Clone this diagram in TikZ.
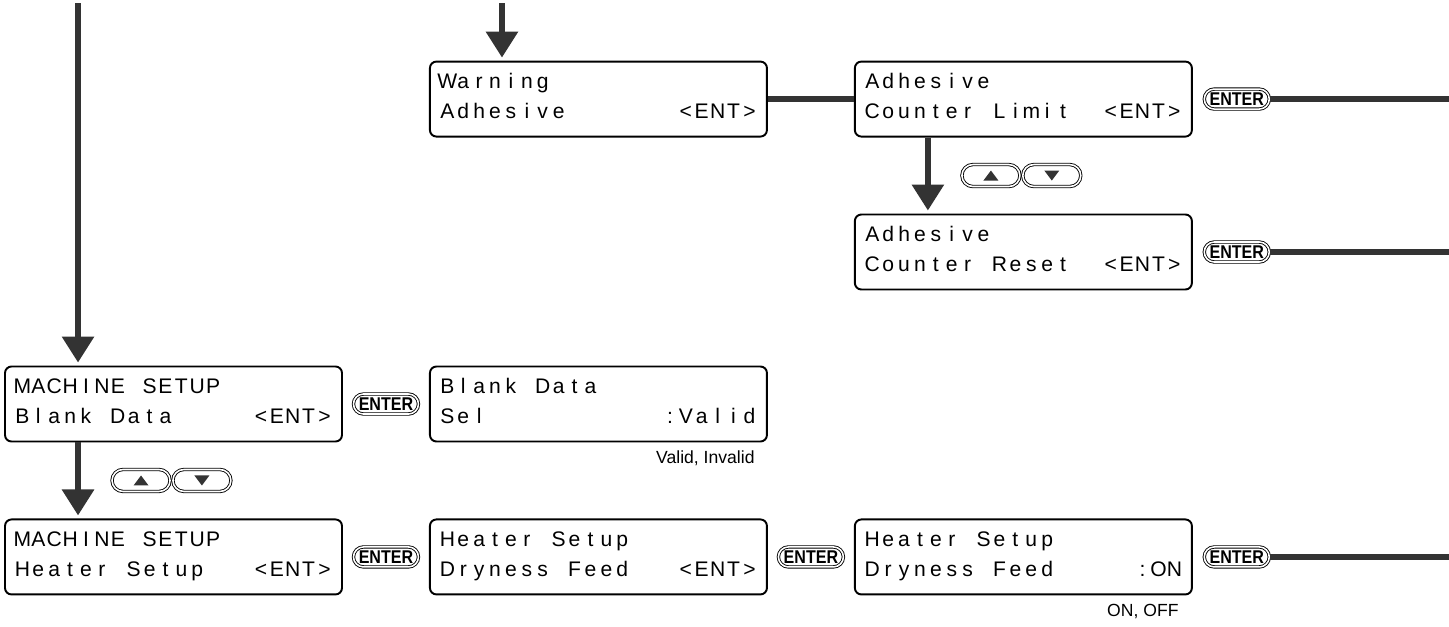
\documentclass[tikz,border=0pt]{standalone}
\usepackage{fontspec}
\setmainfont{Liberation Sans}
\newfontfamily\keyfont[FakeStretch=0.87]{Liberation Sans}
\usetikzlibrary{arrows.meta,positioning,calc,shapes.misc}
\definecolor{ink}{RGB}{51,51,51}
\newlength\lcdpitch
\setlength\lcdpitch{0.318cm}
\ExplSyntaxOn
\NewDocumentCommand\lcd{m}{\str_map_inline:nn{#1}{\makebox[\lcdpitch][c]{##1}}}
\ExplSyntaxOff
\newcommand\lcdline[2]{\rule[-6pt]{0pt}{17pt}\makebox[6.36cm]{\lcd{#1}\hfill\lcd{#2}}}

\begin{document}
\begin{tikzpicture}[
  node distance=1.52cm and 1.72cm,
  lcd/.style={
    draw=black,
    line width=1.1pt,
    rounded corners=0.13cm,
    minimum width=6.74cm,
    minimum height=1.5cm,
    inner sep=0pt,
    align=left,
    font=\fontsize{12}{17}\selectfont
  },
  key/.style={
    rounded rectangle,
    draw=black,
    double=white,
    line width=0.5pt,
    double distance=0.9pt,
    minimum width=1.30cm,
    minimum height=0.40cm,
    inner sep=0pt,
    font=\keyfont\bfseries\fontsize{10.5}{10.5}\selectfont
  },
  updown/.style={
    key,
    minimum width=1.16cm,
    minimum height=0.44cm
  },
  flow/.style={
    -{Triangle[width=0.62cm,length=0.52cm]},
    line width=0.12cm,
    ink,
    shorten >=0.06cm
  },
  link/.style={
    line width=0.12cm,
    ink
  },
  note/.style={
    font=\fontsize{10}{10}\selectfont,
    inner sep=0pt
  }
]

\useasboundingbox (0,0) rectangle (28.98,-12.52);
\coordinate (top) at (0,-0.06);
\coordinate (edge) at (28.98,0);

% Screens
\node[lcd] (ms1) at (3.47,-8.08) {\lcdline{MACHINE SETUP}{}\\\lcdline{Blank Data}{<ENT>}};
\node[lcd,right=of ms1] (bd) {\lcdline{Blank Data}{}\\\lcdline{Sel}{:Valid}};
\node[lcd,below=of ms1] (ms2) {\lcdline{MACHINE SETUP}{}\\\lcdline{Heater Setup}{<ENT>}};
\node[lcd,right=of ms2] (hs1) {\lcdline{Heater Setup}{}\\\lcdline{Dryness Feed}{<ENT>}};
\node[lcd,right=of hs1] (hs2) {\lcdline{Heater Setup}{}\\\lcdline{Dryness Feed}{:ON}};
\node[lcd,above=4.56cm of hs2] (rst) {\lcdline{Adhesive}{}\\\lcdline{Counter Reset}{<ENT>}};
\node[lcd,above=of rst] (cnt) {\lcdline{Adhesive}{}\\\lcdline{Counter Limit}{<ENT>}};
\node[lcd,left=of cnt] (warn) {\lcdline{Warning}{}\\\lcdline{Adhesive}{<ENT>}};

\node[note,below left=0.16cm and 0.26cm of bd.south east] (vals) {Valid, Invalid};
\node[note,below left=0.17cm and 0.28cm of hs2.south east] (onoff) {ON, OFF};

% Keys
\node[key] (k1) at ($(ms1.east)!0.5!(bd.west)$) {ENTER};
\node[key] (k2) at ($(ms2.east)!0.5!(hs1.west)$) {ENTER};
\node[key] (k3) at ($(hs1.east)!0.5!(hs2.west)$) {ENTER};
\node[key,right=0.22cm of cnt] (k4) {ENTER};
\node[key,right=0.22cm of rst] (k5) {ENTER};
\node[key,right=0.22cm of hs2] (k6) {ENTER};

\node[updown] (up1) at ($(ms1.south west)!0.5!(ms2.north west)+(2.74,0)$) {};
\node[updown,right=0.04cm of up1] (dn1) {};
\node[updown] (up2) at ($(cnt.south west)!0.5!(rst.north west)+(2.74,0)$) {};
\node[updown,right=0.04cm of up2] (dn2) {};
\foreach \u in {up1,up2}
  \fill[ink] ($(\u)+(-0.15,-0.1)$) -- ++(0.3,0) -- ++(-0.15,0.2) -- cycle;
\foreach \d in {dn1,dn2}
  \fill[ink] ($(\d)+(-0.15,0.1)$) -- ++(0.3,0) -- ++(-0.15,-0.2) -- cycle;

% Flow
\coordinate (aL) at ($(ms1.north west)+(1.48,0)$);
\coordinate (aW) at ($(warn.north west)+(1.46,0)$);
\coordinate (aC) at ($(cnt.south west)+(1.48,0)$);
\coordinate (aB) at ($(ms1.south west)+(1.48,0)$);

\draw[flow] (aL |- top) -- (aL);
\draw[flow] (aW |- top) -- (aW);
\draw[flow] (aC) -- (aC |- rst.north);
\draw[flow] (aB) -- (aB |- ms2.north);

\draw[link] (warn) -- (cnt);

\draw[link] (k4.east) -- (k4.east -| edge);
\draw[link] (k5.east) -- (k5.east -| edge);
\draw[link] (k6.east) -- (k6.east -| edge);

\end{tikzpicture}
\end{document}
